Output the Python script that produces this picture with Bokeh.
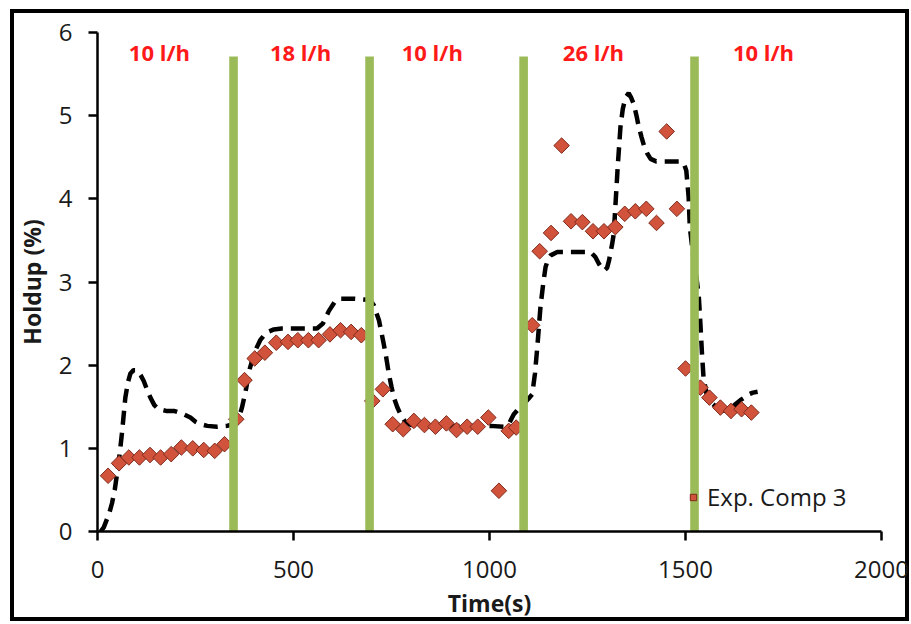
import math
from bokeh.plotting import figure
from bokeh.models import (ColumnDataSource, Legend, LegendItem, FixedTicker, Range1d)
from bokeh.core.properties import value
from bokeh.embed import file_html
from bokeh.resources import INLINE

# ---- data ----
model_t = [8, 16, 30, 37, 44, 50, 57, 63, 71, 78, 84, 92, 101, 110, 118, 126, 135, 145, 156, 175,
           195, 215, 237, 250, 263, 280, 305, 331, 345, 360, 368, 378, 388, 400, 415, 430, 450, 470,
           500, 530, 560, 575, 590, 605, 620, 650, 680, 696, 705, 712, 718, 724, 730, 737, 743, 750,
           756, 765, 773, 786, 800, 850, 900, 950, 1003, 1037, 1050, 1062, 1075, 1090, 1100, 1109,
           1116, 1122, 1130, 1137, 1143, 1150, 1156, 1173, 1200, 1230, 1258, 1270, 1279, 1287, 1293,
           1300, 1305, 1313, 1317, 1321, 1327, 1334, 1340, 1347, 1355, 1361, 1368, 1375, 1381, 1388,
           1394, 1402, 1411, 1425, 1436, 1460, 1487, 1496, 1502, 1508, 1511, 1520, 1528, 1534, 1538,
           1542, 1546, 1554, 1565, 1580, 1597, 1610, 1625, 1640, 1650, 1662, 1672, 1684]
model_v = [0.0, 0.05, 0.22, 0.34, 0.50, 0.70, 0.95, 1.21, 1.61, 1.80, 1.90, 1.94, 1.94, 1.88, 1.81,
           1.71, 1.61, 1.52, 1.47, 1.45, 1.45, 1.42, 1.37, 1.32, 1.29, 1.27, 1.26, 1.27, 1.29, 1.36,
           1.48, 1.69, 1.95, 2.15, 2.30, 2.39, 2.43, 2.44, 2.44, 2.44, 2.44, 2.50, 2.65, 2.76, 2.80,
           2.80, 2.79, 2.78, 2.72, 2.62, 2.54, 2.40, 2.26, 2.08, 1.90, 1.74, 1.61, 1.49, 1.41, 1.31,
           1.28, 1.27, 1.27, 1.27, 1.27, 1.26, 1.30, 1.41, 1.48, 1.55, 1.60, 1.65, 1.90, 2.22, 2.70,
           2.98, 3.18, 3.28, 3.32, 3.36, 3.36, 3.36, 3.36, 3.30, 3.22, 3.16, 3.14, 3.17, 3.26, 3.46,
           3.58, 3.90, 4.38, 4.86, 5.08, 5.22, 5.27, 5.22, 5.14, 5.00, 4.86, 4.74, 4.64, 4.55, 4.48,
           4.45, 4.45, 4.45, 4.45, 4.42, 4.34, 4.02, 3.66, 3.30, 3.05, 2.82, 2.50, 2.14, 1.85, 1.65,
           1.55, 1.49, 1.45, 1.47, 1.52, 1.58, 1.61, 1.65, 1.67, 1.68]

exp_t = [27, 55, 80, 107, 134, 161, 188, 214, 243, 271, 299, 324, 354,
         375, 401, 427, 456, 486, 511, 538, 564, 593, 620, 647, 673,
         701, 728, 753, 780, 807, 834, 862, 890, 916, 943, 970, 997, 1024, 1049, 1068,
         1109, 1128, 1157, 1184, 1208, 1237, 1264, 1292, 1321, 1345, 1372, 1400, 1426, 1452, 1478,
         1500, 1538, 1561, 1589, 1616, 1643, 1668]
exp_v = [0.67, 0.82, 0.89, 0.89, 0.92, 0.89, 0.93, 1.01, 1.00, 0.98, 0.97, 1.05, 1.35,
         1.82, 2.08, 2.15, 2.27, 2.28, 2.30, 2.30, 2.30, 2.37, 2.42, 2.40, 2.36,
         1.57, 1.71, 1.29, 1.23, 1.33, 1.28, 1.26, 1.30, 1.22, 1.26, 1.26, 1.37, 0.49, 1.21, 1.25,
         2.48, 3.37, 3.59, 4.64, 3.73, 3.72, 3.61, 3.61, 3.66, 3.82, 3.85, 3.88, 3.71, 4.81, 3.88,
         1.96, 1.73, 1.61, 1.49, 1.45, 1.47, 1.43]

switch_t = [347, 694, 1087, 1523]
switch_top = 5.71

rate_labels = ["10 l/h", "18 l/h", "10 l/h", "26 l/h", "10 l/h"]
rate_label_t = [158, 518, 854, 1265, 1699]
rate_label_v = 5.76

x_ticks = [0, 500, 1000, 1500, 2000]
y_ticks = [0, 1, 2, 3, 4, 5, 6]

# ---- figure ----
p = figure(width=911, height=624, output_backend="svg", toolbar_location=None,
           x_range=Range1d(0, 2000), y_range=Range1d(0, 6),
           min_border_left=97, min_border_right=30, min_border_top=32, min_border_bottom=93)
p.outline_line_color = None
p.grid.visible = False
p.background_fill_color = "white"
p.border_fill_alpha = 0
# outer picture frame drawn by the host element (inset shadows)
p.styles = {"box-shadow": "inset 4px 3px 0 6px white, inset 4px 3px 0 10px black",
            "background-color": "white"}

p.line(model_t, model_v, line_color="black", line_width=4.5, line_dash="14 8")

exp = p.scatter(exp_t, exp_v, marker="square", angle=math.pi / 4, size=11,
                fill_color="#d2533c", line_color="#7f2a1c", line_width=1)

p.vbar(x=switch_t, top=switch_top, bottom=0, width=22, fill_color="#9bbb59",
       line_color=None)

src = ColumnDataSource(dict(x=rate_label_t, y=[rate_label_v] * len(rate_label_t), t=rate_labels))
p.text(x="x", y="y", text="t", source=src, text_color="#ff1a1a", text_font=value("Open Sans"),
       text_font_style="bold", text_font_size="22px", text_align="center",
       text_baseline="middle")

for ax in (p.xaxis[0], p.yaxis[0]):
    ax.axis_line_width = 2.5
    ax.axis_line_color = "black"
    ax.major_tick_line_width = 2.5
    ax.major_tick_line_color = "black"
    ax.major_tick_in = 0
    ax.major_tick_out = 9
    ax.minor_tick_line_color = None
    ax.major_label_text_font = "Open Sans"
    ax.major_label_text_font_size = "24px"
    ax.major_label_text_color = "#1a1a1a"
    ax.axis_label_text_font = "Open Sans"
    ax.axis_label_text_font_style = "bold"
    ax.axis_label_text_font_size = "23px"
    ax.axis_label_text_color = "#1a1a1a"

p.xaxis.ticker = FixedTicker(ticks=x_ticks)
p.yaxis.ticker = FixedTicker(ticks=y_ticks)
p.xaxis.axis_label = "Time(s)"
p.yaxis.axis_label = "Holdup (%)"
p.xaxis.major_label_standoff = 20
p.yaxis.major_label_standoff = 16
p.xaxis.axis_label_standoff = 6
p.yaxis.axis_label_standoff = 8

legend = Legend(items=[LegendItem(label="Exp. Comp 3", renderers=[exp])],
                location=(588, 18), padding=0, margin=0, glyph_width=16, glyph_height=30,
                label_height=30, label_standoff=6, background_fill_alpha=0,
                border_line_color=None, label_text_font="Open Sans",
                label_text_font_size="24px", label_text_color="#1a1a1a")
p.add_layout(legend)

open("out.html", "w").write(file_html(p, INLINE))
